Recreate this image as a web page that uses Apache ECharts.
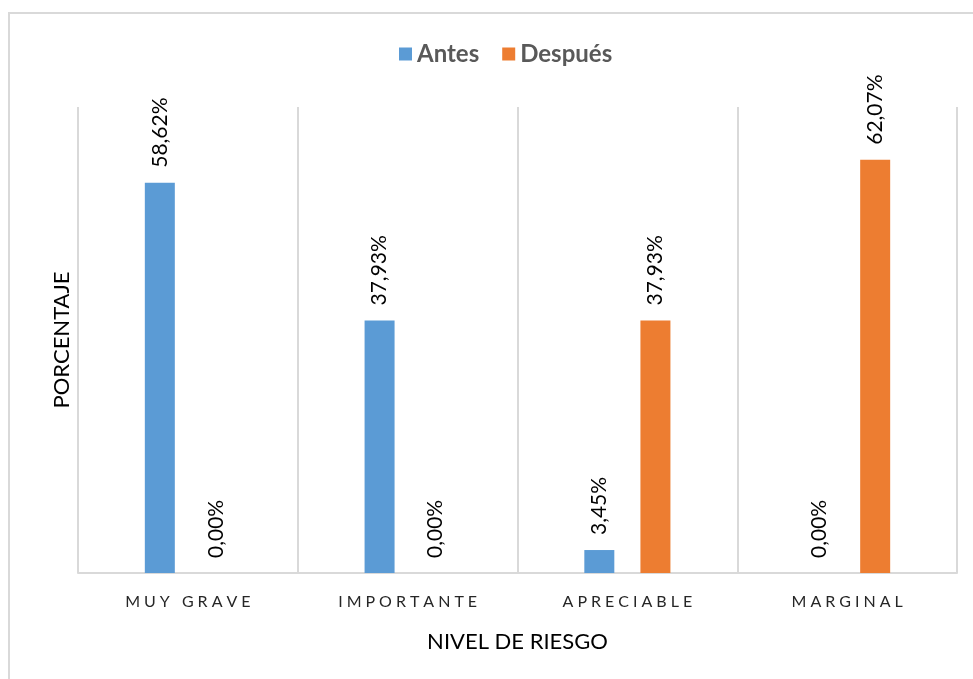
<!DOCTYPE html>
<html>
<head>
<meta charset="utf-8">
<script src="https://cdn.jsdelivr.net/npm/echarts@6/dist/echarts.min.js"></script>
<style>
  html, body { margin: 0; padding: 0; background: #fff; }
  #chart { width: 973px; height: 679px; }
</style>
</head>
<body>
<div id="chart"></div>
<script>
// datos
var categories = ['MUY GRAVE', 'IMPORTANTE', 'APRECIABLE', 'MARGINAL'];
var antes = [58.62, 37.93, 3.45, 0.00];
var despues = [0.00, 0.00, 37.93, 62.07];
var seriesNames = ['Antes', 'Después'];
var colors = ['#5b9bd5', '#ed7d31'];

var font = 'Lato, "Open Sans", sans-serif';

// separar letras como en Excel
function spaced(s) {
    return s.split('').join('\u2009\u2009');
}

var chart = echarts.init(document.getElementById('chart'));

var labelCfg = {
    show: true,
    position: 'top',
    rotate: 90,
    align: 'left',
    verticalAlign: 'middle',
    distance: 15,
    fontFamily: font,
    fontSize: 21,
    color: '#000',
    formatter: function (p) {
        return p.value.toFixed(2).replace('.', ',') + '%';
    }
};

var option = {
    animation: false,
    backgroundColor: '#fff',
    textStyle: { fontFamily: font },
    graphic: [{
        type: 'rect',
        shape: { x: 9, y: 13, width: 980, height: 700 },
        style: { fill: 'none', stroke: '#d9d9d9', lineWidth: 2 },
        silent: true
    }],
    legend: {
        data: seriesNames,
        top: 37,
        left: 394,
        icon: 'rect',
        itemWidth: 13,
        itemHeight: 13,
        itemGap: 23,
        textStyle: { fontFamily: font, fontSize: 24, fontWeight: 'bold', color: '#595959' }
    },
    grid: { left: 78, right: 16, top: 107, bottom: 106 },
    xAxis: {
        type: 'category',
        data: categories,
        name: 'NIVEL DE RIESGO',
        nameLocation: 'middle',
        nameGap: 58,
        nameTextStyle: { fontFamily: font, fontSize: 22, color: '#000' },
        axisLine: { lineStyle: { color: '#d9d9d9', width: 2 } },
        axisTick: { show: false },
        axisLabel: {
            margin: 21,
            fontFamily: font,
            fontSize: 16,
            color: '#262626',
            formatter: spaced
        },
        splitLine: { show: true, lineStyle: { color: '#d9d9d9', width: 2 } }
    },
    yAxis: {
        type: 'value',
        min: 0,
        max: 70,
        name: 'PORCENTAJE',
        nameLocation: 'middle',
        nameGap: 5,
        nameTextStyle: { fontFamily: font, fontSize: 22, color: '#000' },
        axisLine: { show: false },
        axisTick: { show: false },
        axisLabel: { show: false },
        splitLine: { show: false }
    },
    series: [{
        name: seriesNames[0],
        type: 'bar',
        data: antes,
        barWidth: 30,
        barGap: '87%',
        itemStyle: { color: colors[0] },
        label: labelCfg
    }, {
        name: seriesNames[1],
        type: 'bar',
        data: despues,
        barWidth: 30,
        barGap: '87%',
        itemStyle: { color: colors[1] },
        label: labelCfg
    }]
};

chart.setOption(option);
</script>
</body>
</html>
